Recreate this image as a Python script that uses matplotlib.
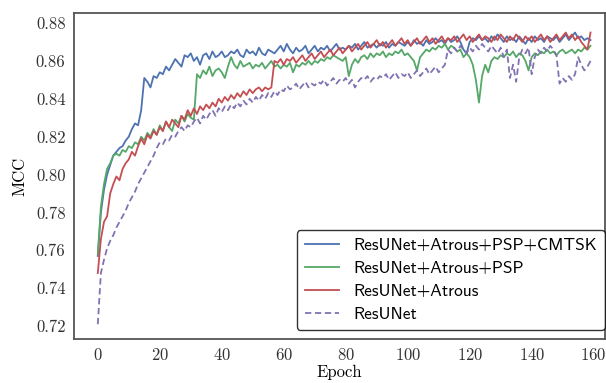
import matplotlib
matplotlib.use("Agg")
import matplotlib.pyplot as plt
import numpy as np

# MCC per epoch
epochs = np.arange(160)

mcc_cmtsk = [
    0.757, 0.780, 0.792, 0.800, 0.805, 0.810, 0.812, 0.814, 0.815, 0.818,
    0.820, 0.824, 0.827, 0.826, 0.834, 0.851, 0.849, 0.846, 0.852, 0.851,
    0.854, 0.853, 0.857, 0.855, 0.858, 0.861, 0.859, 0.857, 0.863, 0.862,
    0.864, 0.860, 0.862, 0.858, 0.863, 0.864, 0.861, 0.865, 0.862, 0.863,
    0.865, 0.862, 0.863, 0.865, 0.864, 0.866, 0.863, 0.862, 0.866, 0.864,
    0.865, 0.863, 0.867, 0.864, 0.863, 0.866, 0.865, 0.864, 0.866, 0.868,
    0.865, 0.869, 0.866, 0.864, 0.867, 0.865, 0.866, 0.868, 0.864, 0.866,
    0.868, 0.865, 0.867, 0.866, 0.868, 0.865, 0.867, 0.869, 0.866, 0.867,
    0.866, 0.868, 0.867, 0.869, 0.866, 0.868, 0.870, 0.867, 0.868, 0.869,
    0.867, 0.869, 0.868, 0.870, 0.867, 0.869, 0.868, 0.870, 0.869, 0.868,
    0.870, 0.868, 0.871, 0.869, 0.870, 0.868, 0.871, 0.869, 0.870, 0.872,
    0.870, 0.871, 0.869, 0.872, 0.870, 0.871, 0.873, 0.870, 0.866, 0.864,
    0.870, 0.872, 0.871, 0.873, 0.871, 0.872, 0.870, 0.873, 0.871, 0.874,
    0.872, 0.870, 0.873, 0.871, 0.872, 0.870, 0.873, 0.871, 0.869, 0.872,
    0.870, 0.873, 0.871, 0.872, 0.870, 0.873, 0.872, 0.871, 0.873, 0.870,
    0.872, 0.874, 0.871, 0.873, 0.875, 0.872, 0.873, 0.871, 0.872, 0.871,
]

mcc_psp = [
    0.758, 0.783, 0.795, 0.803, 0.806, 0.810, 0.811, 0.810, 0.813, 0.812,
    0.815, 0.814, 0.817, 0.816, 0.820, 0.818, 0.822, 0.820, 0.824, 0.821,
    0.826, 0.823, 0.828, 0.825, 0.823, 0.829, 0.827, 0.831, 0.828, 0.832,
    0.830, 0.829, 0.853, 0.851, 0.855, 0.853, 0.857, 0.852, 0.855, 0.856,
    0.854, 0.851, 0.857, 0.862, 0.858, 0.856, 0.860, 0.857, 0.858, 0.859,
    0.856, 0.858, 0.857, 0.859, 0.856, 0.858, 0.860, 0.857, 0.858, 0.856,
    0.858, 0.857, 0.859, 0.854, 0.858, 0.857, 0.859, 0.858, 0.860, 0.858,
    0.860, 0.859, 0.861, 0.860, 0.862, 0.861, 0.863, 0.862, 0.861, 0.860,
    0.862, 0.852, 0.858, 0.861, 0.859, 0.862, 0.863, 0.861, 0.864, 0.862,
    0.864, 0.863, 0.865, 0.862, 0.864, 0.863, 0.865, 0.864, 0.866, 0.863,
    0.864, 0.862, 0.860, 0.855, 0.862, 0.864, 0.866, 0.865, 0.867, 0.866,
    0.868, 0.867, 0.869, 0.866, 0.868, 0.867, 0.865, 0.866, 0.862, 0.864,
    0.862, 0.858, 0.850, 0.838, 0.852, 0.858, 0.854, 0.860, 0.862, 0.861,
    0.863, 0.862, 0.864, 0.863, 0.865, 0.862, 0.864, 0.863, 0.860, 0.855,
    0.862, 0.864, 0.863, 0.865, 0.864, 0.866, 0.864, 0.865, 0.863, 0.865,
    0.866, 0.864, 0.865, 0.866, 0.864, 0.866, 0.865, 0.867, 0.866, 0.868,
]

mcc_atrous = [
    0.748, 0.766, 0.775, 0.778, 0.790, 0.795, 0.799, 0.797, 0.803, 0.806,
    0.808, 0.812, 0.810, 0.815, 0.819, 0.816, 0.821, 0.819, 0.823, 0.821,
    0.825, 0.823, 0.828, 0.825, 0.829, 0.827, 0.825, 0.831, 0.829, 0.834,
    0.831, 0.835, 0.832, 0.836, 0.834, 0.837, 0.835, 0.838, 0.836, 0.840,
    0.838, 0.841, 0.839, 0.842, 0.840, 0.843, 0.841, 0.844, 0.842, 0.845,
    0.843, 0.845, 0.846, 0.844, 0.846, 0.845, 0.846, 0.860, 0.859, 0.861,
    0.858, 0.861, 0.860, 0.862, 0.859, 0.861, 0.863, 0.860, 0.862, 0.864,
    0.861, 0.863, 0.865, 0.862, 0.864, 0.866, 0.863, 0.865, 0.867, 0.864,
    0.866, 0.868, 0.865, 0.867, 0.869, 0.866, 0.868, 0.870, 0.867, 0.869,
    0.871, 0.868, 0.870, 0.867, 0.869, 0.871, 0.868, 0.870, 0.872, 0.869,
    0.871, 0.868, 0.870, 0.872, 0.869, 0.871, 0.873, 0.870, 0.872, 0.869,
    0.871, 0.873, 0.870, 0.872, 0.871, 0.873, 0.870, 0.872, 0.874, 0.871,
    0.873, 0.870, 0.872, 0.874, 0.871, 0.873, 0.872, 0.870, 0.873, 0.871,
    0.874, 0.872, 0.870, 0.873, 0.871, 0.874, 0.872, 0.870, 0.873, 0.871,
    0.873, 0.870, 0.872, 0.874, 0.871, 0.873, 0.870, 0.872, 0.874, 0.871,
    0.873, 0.875, 0.872, 0.874, 0.871, 0.873, 0.870, 0.868, 0.866, 0.875,
]

mcc_resunet = [
    0.721, 0.748, 0.755, 0.761, 0.765, 0.768, 0.772, 0.775, 0.778, 0.781,
    0.785, 0.788, 0.791, 0.795, 0.798, 0.801, 0.804, 0.807, 0.810, 0.814,
    0.817, 0.816, 0.819, 0.818, 0.821, 0.820, 0.823, 0.825, 0.823, 0.826,
    0.825, 0.828, 0.830, 0.827, 0.831, 0.829, 0.832, 0.834, 0.831, 0.835,
    0.833, 0.836, 0.834, 0.837, 0.835, 0.838, 0.836, 0.839, 0.837, 0.840,
    0.838, 0.841, 0.839, 0.842, 0.840, 0.843, 0.841, 0.844, 0.842, 0.845,
    0.844, 0.847, 0.845, 0.846, 0.848, 0.845, 0.847, 0.849, 0.846, 0.848,
    0.847, 0.849, 0.848, 0.850, 0.847, 0.849, 0.851, 0.848, 0.850, 0.849,
    0.851, 0.848, 0.850, 0.846, 0.849, 0.851, 0.850, 0.852, 0.849, 0.851,
    0.850, 0.852, 0.851, 0.853, 0.850, 0.852, 0.854, 0.851, 0.853, 0.852,
    0.854, 0.851, 0.853, 0.855, 0.852, 0.854, 0.856, 0.853, 0.855, 0.857,
    0.854, 0.856, 0.858, 0.866, 0.864, 0.867, 0.865, 0.868, 0.866, 0.864,
    0.867, 0.865, 0.868, 0.866, 0.869, 0.867, 0.865, 0.868, 0.866, 0.864,
    0.867, 0.862, 0.866, 0.851, 0.858, 0.849, 0.862, 0.866, 0.864, 0.867,
    0.853, 0.862, 0.866, 0.864, 0.867, 0.865, 0.868, 0.866, 0.863, 0.848,
    0.851, 0.849, 0.852, 0.850, 0.853, 0.862, 0.858, 0.855, 0.857, 0.860,
]

labels = [
    "ResUNet+Atrous+PSP+CMTSK",
    "ResUNet+Atrous+PSP",
    "ResUNet+Atrous",
    "ResUNet",
]
x_ticks = [0, 20, 40, 60, 80, 100, 120, 140, 160]
y_ticks = [0.72, 0.74, 0.76, 0.78, 0.80, 0.82, 0.84, 0.86, 0.88]

plt.rcParams["font.family"] = "serif"
plt.rcParams["font.serif"] = ["cmr10", "DejaVu Serif"]
plt.rcParams["axes.formatter.use_mathtext"] = True
plt.rcParams["mathtext.fontset"] = "cm"

fig = plt.figure(figsize=(6.06, 3.83), dpi=100)
ax = fig.add_axes([0.122, 0.115, 0.876, 0.851])

ax.plot(epochs, mcc_cmtsk, color="#4C72B0", lw=1.3, label=labels[0])
ax.plot(epochs, mcc_psp, color="#55A868", lw=1.3, label=labels[1])
ax.plot(epochs, mcc_atrous, color="#C44E52", lw=1.3, label=labels[2])
ax.plot(epochs, mcc_resunet, color="#8172B2", lw=1.3, ls=(0, (3.5, 2)),
        label=labels[3])

ax.set_xlim(-7.7, 163.6)
ax.set_ylim(0.7132, 0.8853)
ax.set_xticks(x_ticks)
ax.set_yticks(y_ticks)
ax.set_yticklabels([f"{v:.2f}" for v in y_ticks])
ax.tick_params(length=0, pad=6, labelsize=12, colors="#333333")
ax.set_xlabel("Epoch", fontsize=12, labelpad=1)
ax.set_ylabel("MCC", fontsize=12, labelpad=6)
for spine in ax.spines.values():
    spine.set_color("#555555")
    spine.set_linewidth(1.3)

leg = ax.legend(
    loc="lower right", bbox_to_anchor=(1.0, 0.028), borderaxespad=0,
    prop={"family": "cmss10", "size": 12.5}, frameon=True, fancybox=True,
    handlelength=2.0, labelspacing=0.45, borderpad=0.45,
)
leg.get_frame().set_edgecolor("black")
leg.get_frame().set_linewidth(1.0)

fig.savefig("out.png", dpi=100)
